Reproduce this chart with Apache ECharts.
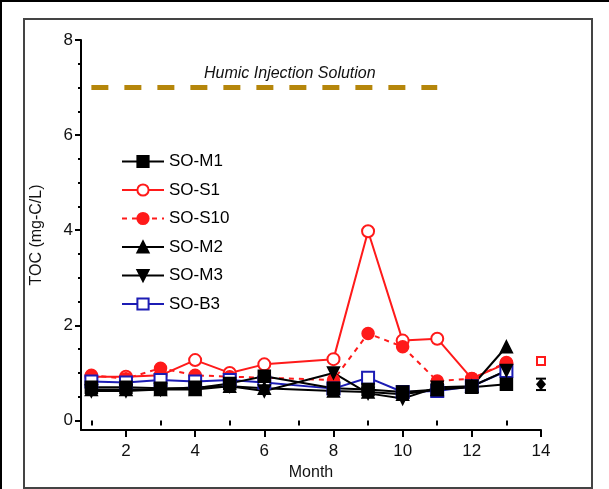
<!DOCTYPE html>
<html><head><meta charset="utf-8">
<script src="https://cdn.jsdelivr.net/npm/echarts@6/dist/echarts.min.js"></script>
<style>html,body{margin:0;padding:0;background:#fff}#c{width:609px;height:489px}</style>
</head><body><div id="c"></div>
<script>
const months = [1,2,3,4,5,6,8,9,10,11,12,13];
const soM1  = [0.70,0.70,0.68,0.68,0.78,0.93,0.68,0.65,0.60,0.65,0.70,0.76];
const soS1  = [0.92,0.92,0.95,1.27,1.00,1.18,1.29,3.98,1.68,1.72,0.88,1.20];
const soS10 = [0.95,0.88,1.10,0.95,0.92,0.90,0.85,1.83,1.55,0.83,0.88,1.22];
const soM2  = [0.65,0.65,0.65,0.65,0.72,0.68,0.62,0.60,0.55,0.65,0.72,1.55];
const soM3  = [0.62,0.62,0.65,0.70,0.72,0.62,1.00,0.57,0.46,0.70,0.72,1.05];
const soB3  = [0.82,0.80,0.85,0.82,0.85,0.80,0.67,0.90,0.60,0.62,0.72,1.04];
const humicX = [1,11];
const humicY = [7,7];
const errX = [14,14];
const errMean = [1.25,0.76];
const errDev = [0.05,0.12];
const errColor = ['#ff1a1a','#000000'];
const yTicks = [0,2,4,6,8];
const yMinor = [0.5,1,1.5,2.5,3,3.5,4.5,5,5.5,6.5,7,7.5];
const xTicks = [2,4,6,8,10,12,14];
const xMinor = [1,3,5,7,9,11,13];

const zip = (xs, ys) => xs.map((x,i)=>[x, ys[i]]);
const FONT = 'Liberation Sans, Arial, sans-serif';
const downTri = 'path://M0,0 L10,0 L5,9 Z';

function lineSeries(name, data, color, symbol, dashed){
  return {name, type:'line', data: zip(months,data), symbol, symbolSize: 12,
    itemStyle:{color, borderColor: color, borderWidth: 1.5},
    lineStyle:{color, width:2, type: dashed ? [5,5] : 'solid'}, z: 3};
}

const chart = echarts.init(document.getElementById('c'), null, {renderer:'canvas'});
chart.setOption({
  backgroundColor:'#fff',
  animation:false,
  textStyle:{fontFamily:FONT},
  graphic:[
    {type:'rect', left:0, top:0, shape:{width:609,height:2}, style:{fill:'#000'}, z:-10},
    {type:'rect', left:0, top:0, shape:{width:2,height:489}, style:{fill:'#000'}, z:-10},
    {type:'rect', left:23, top:18, shape:{width:568,height:469}, style:{fill:'#fff', stroke:'#444', lineWidth:2}, z:-10},
    {type:'text', left:204, top:66, style:{text:'Humic Injection Solution', font:'italic 16px Liberation Sans, Arial, sans-serif', fill:'#111'}}
  ],
  grid:{left:81, right:68, top:40, bottom:59},
  legend:{
    orient:'vertical', left:116, top:148, itemWidth:42, itemHeight:14, itemGap:11.5,
    textStyle:{fontSize:17, color:'#000', fontFamily:FONT},
    data:['SO-M1','SO-S1','SO-S10','SO-M2','SO-M3','SO-B3']
  },
  xAxis:[{
    type:'value', min:0.7, max:14, name:'Month', nameLocation:'middle', nameGap:34,
    nameTextStyle:{fontSize:16, color:'#111'},
    axisLine:{onZero:false, lineStyle:{color:'#000', width:2}},
    axisTick:{customValues:xTicks, length:7, lineStyle:{color:'#000', width:2}},
    axisLabel:{customValues:xTicks, fontSize:17, color:'#111', margin:13},
    splitLine:{show:false}
  },{
    type:'value', min:0.7, max:14, position:'bottom',
    axisLine:{show:false},
    axisTick:{customValues:xMinor, length:5, lineStyle:{color:'#000', width:2}},
    axisLabel:{show:false}, splitLine:{show:false}
  }],
  yAxis:[{
    type:'value', min:-0.2, max:8, name:'TOC (mg-C/L)', nameLocation:'middle', nameGap:36,
    nameTextStyle:{fontSize:16, color:'#111'},
    axisLine:{onZero:false, lineStyle:{color:'#000', width:2}},
    axisTick:{customValues:yTicks, length:6, lineStyle:{color:'#000', width:2}},
    axisLabel:{customValues:yTicks, fontSize:17, color:'#111', margin:8},
    splitLine:{show:false}
  },{
    type:'value', min:-0.2, max:8, position:'left',
    axisLine:{show:false},
    axisTick:{customValues:yMinor, length:3, lineStyle:{color:'#000', width:2}},
    axisLabel:{show:false}, splitLine:{show:false}
  }],
  series:[
    {name:'humic', type:'line', data: zip(humicX, humicY), symbol:'none',
      lineStyle:{color:'#b5860b', width:5, type:[17,16]}, z:2, silent:true},
    lineSeries('SO-S1', soS1, '#ff1a1a', 'emptyCircle', false),
    lineSeries('SO-S10', soS10, '#ff1a1a', 'circle', true),
    lineSeries('SO-B3', soB3, '#1c1cb4', 'emptyRect', false),
    lineSeries('SO-M1', soM1, '#000', 'rect', false),
    lineSeries('SO-M2', soM2, '#000', 'triangle', false),
    lineSeries('SO-M3', soM3, '#000', downTri, false),
    {type:'custom', name:'err', data: errX.map((x,i)=>[x, errMean[i], errDev[i], i]), z:4,
      renderItem:function(params, api){
        const x = api.value(0), m = api.value(1), d = api.value(2), idx = api.value(3);
        const c = errColor[idx];
        const top = api.coord([x, m + d]), bot = api.coord([x, m - d]), mid = api.coord([x, m]);
        const lw = {stroke:c, lineWidth:2};
        const children = [
          {type:'line', shape:{x1:top[0], y1:top[1], x2:bot[0], y2:bot[1]}, style:lw},
          {type:'line', shape:{x1:top[0]-5, y1:top[1], x2:top[0]+5, y2:top[1]}, style:lw},
          {type:'line', shape:{x1:bot[0]-5, y1:bot[1], x2:bot[0]+5, y2:bot[1]}, style:lw}
        ];
        if (idx === 1) {
          children.push({type:'polygon', shape:{points:[[mid[0],mid[1]-6],[mid[0]+5,mid[1]],[mid[0],mid[1]+6],[mid[0]-5,mid[1]]]}, style:{fill:c}});
        } else {
          children.push({type:'rect', shape:{x:mid[0]-4, y:mid[1]-4, width:8, height:8}, style:{fill:'#fff', stroke:c, lineWidth:2}});
        }
        return {type:'group', children};
      }}
  ]
});
</script></body></html>
